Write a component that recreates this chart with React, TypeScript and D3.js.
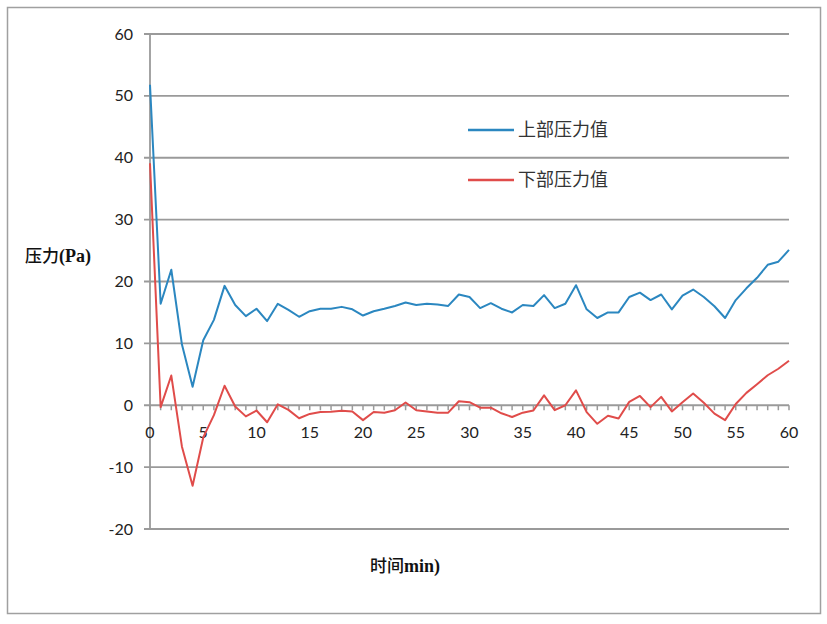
import React from "react";
import * as d3 from "d3";

const minutes: number[] = d3.range(0, 61);
const upperPressure: number[] = [
  51.8, 16.4, 21.9, 9.8, 3.0, 10.5, 13.8, 19.3, 16.2, 14.4,
  15.6, 13.6, 16.4, 15.4, 14.3, 15.2, 15.6, 15.6, 15.9, 15.5,
  14.5, 15.2, 15.6, 16.05, 16.6, 16.2, 16.4, 16.3, 16.05, 17.9,
  17.5, 15.7, 16.5, 15.6, 15.0, 16.2, 16.05, 17.8, 15.7, 16.4,
  19.4, 15.5, 14.1, 15.0, 15.0, 17.5, 18.2, 17.0, 17.9, 15.5,
  17.7, 18.7, 17.5, 16.0, 14.1, 17.0, 18.9, 20.6, 22.7, 23.2,
  25.1,
];
const lowerPressure: number[] = [
  39.1, -0.3, 4.8, -6.7, -13.0, -5.2, -1.6, 3.15, -0.2, -1.8,
  -0.85, -2.75, 0.15, -0.75, -2.1, -1.4, -1.1, -1.05, -0.9, -1.0,
  -2.4, -1.1, -1.2, -0.8, 0.45, -0.8, -1.0, -1.2, -1.2, 0.65,
  0.5, -0.4, -0.4, -1.3, -1.9, -1.2, -0.85, 1.6, -0.8, 0.0,
  2.4, -1.1, -3.0, -1.7, -2.15, 0.55, 1.5, -0.3, 1.35, -1.0,
  0.5, 1.9, 0.4, -1.35, -2.4, 0.2, 2.0, 3.4, 4.85, 5.9,
  7.2,
];
const yTicks: number[] = [-20, -10, 0, 10, 20, 30, 40, 50, 60];
const xTicks: number[] = [0, 5, 10, 15, 20, 25, 30, 35, 40, 45, 50, 55, 60];
const seriesNames: string[] = ["上部压力值", "下部压力值"];
const seriesColors: string[] = ["#2b87c0", "#e04c4a"];

export default function App() {
  const x = d3.scaleLinear().domain([0, 60]).range([150, 789]);
  const y = d3.scaleLinear().domain([-20, 60]).range([529, 34]);
  const line = d3
    .line<number>()
    .x((_, i) => x(minutes[i]))
    .y((d) => y(d));
  const gridColor = "#9a9a9a";
  const tickFont = "Lato, 'Open Sans', sans-serif";
  const cjkFont = "'Noto Sans CJK SC', sans-serif";
  const latinFont = "'Liberation Serif', serif";
  const series = [upperPressure, lowerPressure];
  return (
    <svg
      width={827}
      height={624}
      style={{ position: "absolute", left: 0, top: 0, background: "#fff" }}
    >
      <rect x={0} y={0} width={827} height={624} fill="#fff" />
      <rect x={7.5} y={7.5} width={813} height={606} fill="none" stroke="#a0a0a0" strokeWidth={1.5} />
      {yTicks.map((t) => (
        <g key={t}>
          <line x1={144} x2={789} y1={y(t)} y2={y(t)} stroke={gridColor} strokeWidth={1.8} />
          <text
            x={133}
            y={y(t)}
            dy="0.35em"
            textAnchor="end"
            fontFamily={tickFont}
            fontSize={16}
            fill="#222"
          >
            {t}
          </text>
        </g>
      ))}
      <line x1={150} x2={150} y1={y(60)} y2={y(-20)} stroke={gridColor} strokeWidth={1.8} />
      {minutes.map((m) => (
        <line key={m} x1={x(m)} x2={x(m)} y1={y(0)} y2={y(0) + 5} stroke={gridColor} strokeWidth={1.5} />
      ))}
      {xTicks.map((t) => (
        <text
          key={t}
          x={x(t)}
          y={432}
          dy="0.35em"
          textAnchor="middle"
          fontFamily={tickFont}
          fontSize={16}
          fill="#222"
        >
          {t}
        </text>
      ))}
      {series.map((s, i) => (
        <path key={i} d={line(s) || ""} fill="none" stroke={seriesColors[i]} strokeWidth={2} strokeLinejoin="round" />
      ))}
      {seriesNames.map((n, i) => (
        <g key={n}>
          <line x1={468} x2={514} y1={130 + i * 50} y2={130 + i * 50} stroke={seriesColors[i]} strokeWidth={2.5} />
          <text
            x={518}
            y={130 + i * 50}
            dy="0.35em"
            fontFamily={cjkFont}
            fontSize={18}
            fill="#333"
          >
            {n}
          </text>
        </g>
      ))}
      <text x={25} y={256} dy="0.35em" fontSize={17} fill="#111">
        <tspan fontFamily={cjkFont} fontWeight={500}>压力</tspan>
        <tspan fontFamily={latinFont} fontWeight="bold" fontSize={18}>(Pa)</tspan>
      </text>
      <text x={405} y={566} dy="0.35em" textAnchor="middle" fontSize={17} fill="#111">
        <tspan fontFamily={cjkFont} fontWeight={500}>时间</tspan>
        <tspan fontFamily={latinFont} fontWeight="bold" fontSize={18}>min)</tspan>
      </text>
    </svg>
  );
}
